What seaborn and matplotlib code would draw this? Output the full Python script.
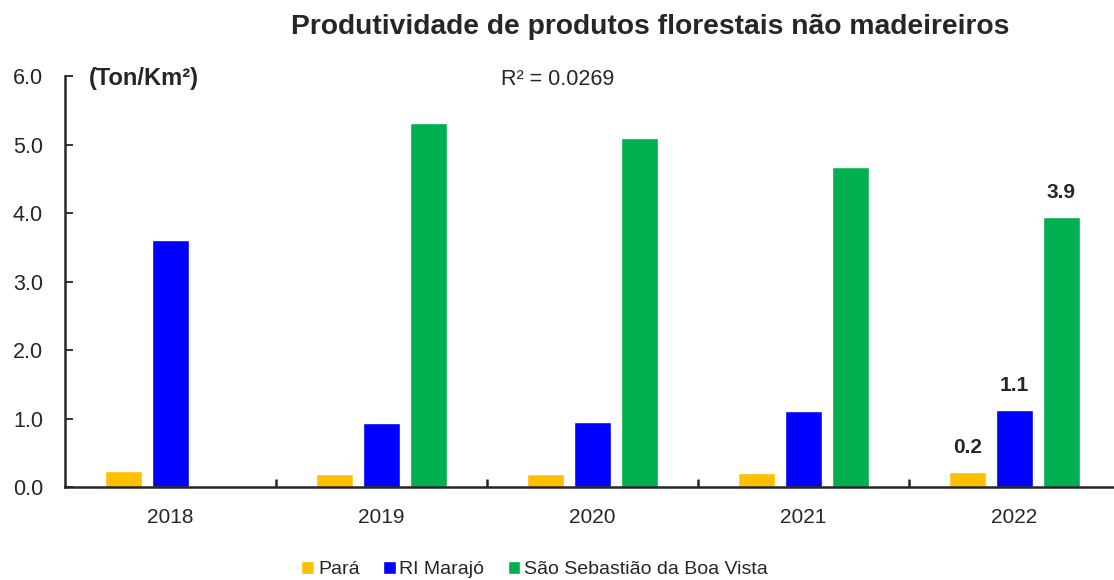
import numpy as np
import pandas as pd
import matplotlib
matplotlib.use("Agg")
import matplotlib.pyplot as plt
from matplotlib.ticker import FixedLocator
import seaborn as sns

years = ["2018", "2019", "2020", "2021", "2022"]
para = [0.24, 0.19, 0.19, 0.20, 0.22]
ri_marajo = [3.61, 0.93, 0.95, 1.11, 1.12]
sao_sebastiao = [np.nan, 5.32, 5.10, 4.67, 3.94]
series_names = ["Pará", "RI Marajó", "São Sebastião da Boa Vista"]
colors = ["#FFC000", "#0000FF", "#00B050"]

df = pd.DataFrame({
    "ano": years * 3,
    "serie": [series_names[0]] * 5 + [series_names[1]] * 5 + [series_names[2]] * 5,
    "valor": para + ri_marajo + sao_sebastiao,
})

sns.set_theme(style="white")
plt.rcParams["font.family"] = ["Liberation Sans", "DejaVu Sans"]
ink = "#262626"

fig = plt.figure(figsize=(11.14, 5.8), dpi=100)
ax = fig.add_axes([0.0583, 0.160, 0.947, 0.709])

sns.barplot(data=df, x="ano", y="valor", hue="serie", order=years,
            hue_order=series_names, palette=colors, width=0.669, gap=0.215,
            saturation=1, ax=ax, errorbar=None, legend=True)

ax.set_xlim(-0.5, 4.5)
ax.set_ylim(0, 6.0)
ax.set_yticks(np.arange(0, 6.01, 1.0))
ax.set_yticklabels([f"{v:.1f}" for v in np.arange(0, 6.01, 1.0)])
ax.set_xlabel("")
ax.set_ylabel("")

for s in ["top", "right"]:
    ax.spines[s].set_visible(False)
for s in ["left", "bottom"]:
    ax.spines[s].set_color(ink)
    ax.spines[s].set_linewidth(1.8)

ax.tick_params(axis="y", direction="in", length=6, width=1.3, color=ink,
               labelsize=15.5, labelcolor=ink, pad=15.8, left=True)
ax.tick_params(axis="x", which="major", length=0, labelsize=15,
               labelcolor=ink, pad=15)
ax.xaxis.set_minor_locator(FixedLocator([0.5, 1.5, 2.5, 3.5]))
ax.tick_params(axis="x", which="minor", direction="in", length=6,
               width=1.8, color=ink, bottom=True)

# value labels on the latest year (last bar of each series)
last = len(years) - 1
for j, vals in enumerate([para, ri_marajo, sao_sebastiao]):
    bar = ax.containers[j][-1]
    xc = bar.get_x() + bar.get_width() / 2
    ax.text(xc, vals[last] + 0.22, f"{vals[last]:.1f}", ha="center",
            va="bottom", fontsize=15, fontweight="bold", color=ink)

fig.text(0.584, 0.953, "Produtividade de produtos florestais não madeireiros",
         ha="center", va="center", fontsize=20.3, fontweight="bold", color=ink)
fig.text(0.080, 0.865, "(Ton/Km²)", ha="left", va="center", fontsize=17,
         fontweight="bold", color=ink)
fig.text(0.450, 0.863, "R² = 0.0269", ha="left", va="center", fontsize=15.5,
         color=ink)

ax.legend(loc="center", bbox_to_anchor=(0.48, 0.018),
          bbox_transform=fig.transFigure, ncol=3,
          frameon=False, fontsize=14, handlelength=0.65, handleheight=0.65,
          handletextpad=0.2, columnspacing=1.2, labelcolor=ink,
          borderpad=0.1)

fig.savefig("out.png", dpi=100)
